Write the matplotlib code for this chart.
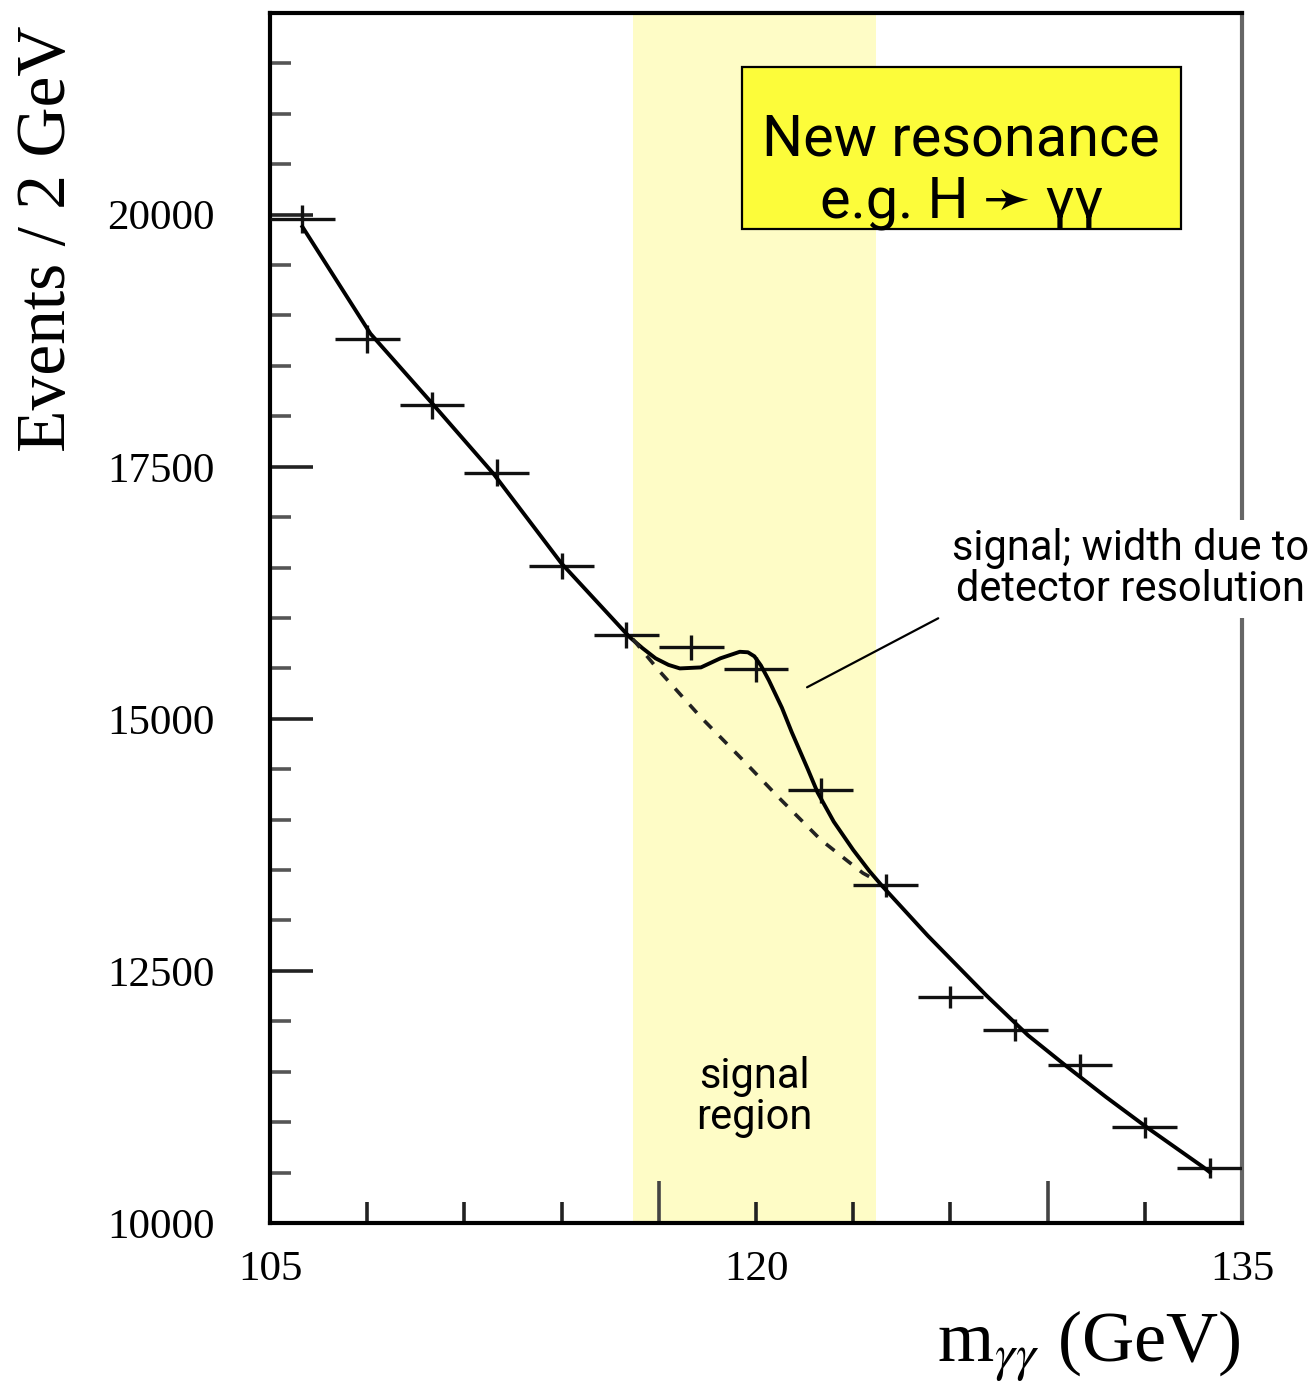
import matplotlib
matplotlib.use("Agg")
import matplotlib.pyplot as plt
from matplotlib.patches import Rectangle
from matplotlib.ticker import MultipleLocator

# binned diphoton mass spectrum, 2 GeV bins
bin_centres = [106, 108, 110, 112, 114, 116, 118, 120, 122, 124, 126, 128, 130, 132, 134]
events = [19960, 18770, 18110, 17440, 16520, 15830, 15710, 15490, 14290, 13350,
          12240, 11910, 11570, 10950, 10545]
event_errors = [140, 137, 135, 132, 129, 126, 125, 124, 120, 116, 111, 109, 108, 105, 103]

# signal + background fit (solid)
fit_mass = [106.0, 108.1, 110.0, 111.9, 114.0, 116.1, 116.5, 116.9, 117.3, 117.65,
            118.3, 118.9, 119.5, 119.75, 119.95, 120.15, 120.4, 120.8, 121.1, 121.6, 121.9,
            122.4, 123.0, 123.5, 123.9, 125.3, 127.1, 128.4, 129.6, 130.8, 132.1, 133.8, 134.0]
fit_events = [19880, 18820, 18130, 17430, 16540, 15810, 15700, 15600, 15535, 15500,
              15510, 15600, 15665, 15660, 15620, 15530, 15380, 15110, 14870, 14500, 14270,
              13980, 13700, 13490, 13340, 12850, 12260, 11860, 11550, 11250, 10940, 10555, 10505]

# background-only fit under the peak (dashed)
bkg_mass = [116.2, 117.0, 118.3, 119.6, 120.7, 122.0, 123.3, 123.7]
bkg_events = [15790, 15480, 15015, 14590, 14220, 13800, 13470, 13400]

signal_region = (116.2, 123.7)

x_minor = [105, 108, 111, 114, 120, 123, 126, 132, 135]
x_minor_labels = ["105", "", "", "", "120", "", "", "", "135"]
x_major = [117, 129]
y_major = [10000, 12500, 15000, 17500, 20000]

plt.rcParams["font.family"] = ["Liberation Serif", "DejaVu Serif"]
plt.rcParams["mathtext.fontset"] = "stix"
sans = ["Roboto", "DejaVu Sans"]

W, H = 1315, 1393
fig = plt.figure(figsize=(W / 100, H / 100), dpi=100)
ax = fig.add_axes([270 / W, (H - 1223) / H, 972 / W, 1210 / H])

ax.axvspan(*signal_region, color="#fefcc6", lw=0, zorder=0)
ax.errorbar(bin_centres, events, xerr=1, yerr=event_errors, fmt="none",
            ecolor="#111111", elinewidth=2.4, capsize=0, zorder=3)
ax.plot(fit_mass, fit_events, color="black", lw=2.8, zorder=4)
ax.plot(bkg_mass, bkg_events, color="#222222", lw=2.6, ls=(0, (3, 3)), zorder=4)

ax.set_xlim(105, 135)
ax.set_ylim(10000, 22000)

ax.set_xticks(x_major)
ax.set_xticklabels(["", ""])
ax.set_xticks(x_minor, labels=x_minor_labels, minor=True)
ax.set_yticks(y_major)
ax.set_yticklabels([str(v) for v in y_major])
ax.yaxis.set_minor_locator(MultipleLocator(500))

ax.tick_params(axis="x", which="major", direction="in", length=30, width=2.6, color="#444444")
ax.tick_params(axis="x", which="minor", direction="in", length=15, width=2.6, color="#222222",
               labelsize=31, pad=20)
ax.tick_params(axis="y", which="major", direction="in", length=31, width=2.6, color="#222222",
               labelsize=31, pad=40)
ax.tick_params(axis="y", which="minor", direction="in", length=15, width=2.6, color="#555555")

for side, spine in ax.spines.items():
    spine.set_linewidth(3)
    spine.set_color("black")
ax.spines["right"].set_color("#666666")

fig.text(48 / W, 1 - 25 / H, "Events / 2 GeV", rotation=90, ha="center", va="top", fontsize=50)
fig.text(1240 / W, 1 - 1362 / H, r"m$_{\gamma\gamma}$ (GeV)", ha="right", va="baseline", fontsize=52)

# yellow label box
ax.add_patch(Rectangle((0.4856, 0.8215), 0.4516, 0.1339, transform=ax.transAxes,
                       facecolor="#fcfc3a", edgecolor="black", lw=1.6, zorder=5))
ax.text(0.711, 0.8826, "New resonance", transform=ax.transAxes, ha="center", va="baseline",
        fontsize=41.5, family=sans, zorder=6)
ax.text(0.711, 0.8314, "e.g. H \u279b \u03b3\u03b3", transform=ax.transAxes, ha="center",
        va="baseline", fontsize=41.5, family=sans, zorder=6)

ax.text(sum(signal_region) / 2, 11250, "signal\nregion", ha="center", va="center",
        fontsize=30, family=sans, linespacing=1.0, zorder=6)

ax.annotate("", xy=(121.5, 15300), xytext=(125.7, 16010),
            arrowprops=dict(arrowstyle="-", color="black", lw=1.6), zorder=6)
fig.text(1131 / W, 1 - 569 / H, "signal; width due to\ndetector resolution", ha="center",
         va="center", fontsize=30, family=sans, linespacing=1.0,
         bbox=dict(facecolor="white", edgecolor="none", pad=6), zorder=10)

fig.savefig("out.png", dpi=100, facecolor="white")
